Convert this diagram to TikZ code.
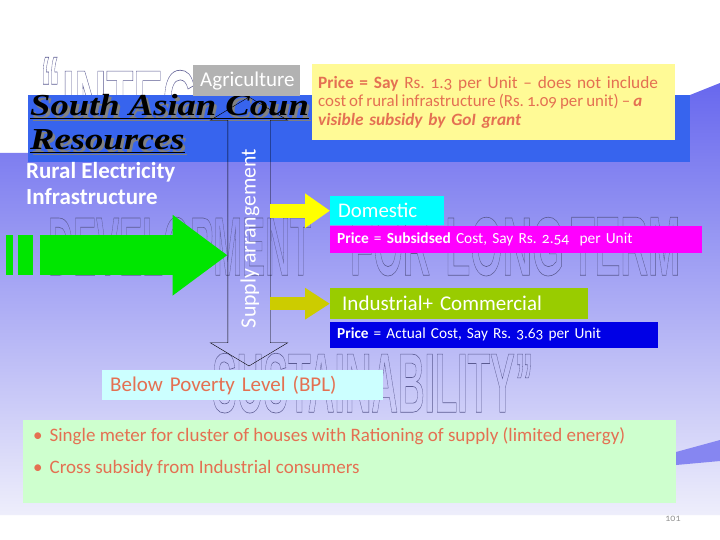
\documentclass[tikz,border=0pt]{standalone}
\usepackage{xcolor}
\usepackage{tikz}
\usepackage{fontspec}
\setmainfont{Carlito}[Numbers=OldStyle]
\newfontfamily\titlefont{Liberation Serif}[FakeStretch=1.2]
\newfontfamily\markfont{Liberation Sans}
\definecolor{bgtop}{RGB}{104,104,238}
\definecolor{bgmid}{RGB}{165,165,246}
\definecolor{bgbot}{RGB}{238,238,251}
\definecolor{bandblue}{RGB}{55,100,238}
\definecolor{markgray}{RGB}{90,90,145}
\definecolor{aggray}{RGB}{178,178,178}
\definecolor{priceyellow}{RGB}{255,250,150}
\definecolor{salmon}{RGB}{228,112,82}
\definecolor{arrowgreen}{RGB}{0,230,0}
\definecolor{arrowyellow}{RGB}{255,255,0}
\definecolor{arrowolive}{RGB}{204,204,0}
\definecolor{domcyan}{RGB}{0,255,255}
\definecolor{pricemagenta}{RGB}{255,0,255}
\definecolor{indgreen}{RGB}{153,204,0}
\definecolor{priceblue}{RGB}{0,0,230}
\definecolor{bplcyan}{RGB}{204,255,255}
\definecolor{notegreen}{RGB}{206,255,206}
\definecolor{pagegray}{RGB}{150,150,150}
\usetikzlibrary{shapes,arrows,arrows.meta,positioning,calc}

\newcommand\outlined[1]{\special{pdf:literal direct 1 Tr 0.6 w}#1\special{pdf:literal direct 0 Tr}}
\newcommand\wmword[3]{\resizebox{#1pt}{#2pt}{\markfont\bfseries\fontsize{82}{82}\selectfont\outlined{#3}}}
\newcommand\fsz[1]{\fontsize{#1}{1.2\dimexpr#1pt\relax}\selectfont}
\frenchspacing

\begin{document}
\begin{tikzpicture}[
    x=1pt, y=-1pt,
    box/.style={anchor=north west, inner xsep=7pt, inner ysep=0pt, align=left, text=white},
    flow/.style={line width=#1},
    watermark/.style={anchor=north west, inner sep=0pt, text=markgray},
    titletext/.style={anchor=base west, inner sep=0pt, font=\titlefont\bfseries\itshape\fsz{30.5}}
]
\useasboundingbox (0,0) rectangle (720,540);
\fill[white] (0,0) rectangle (720,540);
\shade[top color=bgtop, middle color=bgmid, bottom color=bgbot]
    (0,153) -- (690,153) -- (690,95) -- (720,83) -- (720,515) -- (0,515) -- cycle;
\fill[bgtop!80] (676,452) -- (720,440) -- (720,461) -- (676,465) -- cycle;

% watermark title behind everything
\node[watermark] (wmq) at (40,57) {\wmword{20}{66}{“}};
\node[watermark] (wm1) at (62,70) {\wmword{135}{60}{INTEG}};
\node[watermark] (wm2) at (48,217) {\wmword{263}{58}{DEVELOPMENT}\hspace{39pt}\wmword{80}{58}{FOR}%
    \hspace{15pt}\wmword{119}{58}{LONG}\hspace{7pt}\wmword{109}{58}{TERM}};
\node[watermark] (wm3) at (212,353) {\wmword{321}{59}{SUSTAINABILITY”}};

% title band
\node[fill=bandblue, anchor=north west, inner sep=0pt, minimum width=662, minimum height=67] (band) at (28,95) {};
\node[titletext, text=black!50] at (32.5,118.5) {\underline{South Asian Coun}};
\node[titletext] (sac) at (30,116) {\underline{South Asian Coun}};
\node[titletext, text=black!50] at (32.5,152.5) {\underline{Resources}};
\node[titletext] (res) at (30,150) {\underline{Resources}};

\node[box, fill=aggray, minimum width=107, minimum height=31, text width=93, font=\fsz{21}] (agri) at (193,65) {Agriculture};

\node[box, fill=priceyellow, text=salmon, inner xsep=6pt, text width=351, minimum height=76, font=\fsz{17.3}] (price) at (312,64)
    {\mbox{{\bfseries Price = Say} Rs. 1.3 per Unit -- does not include}\\[-2pt]
     \mbox{\fsz{16.9}\spaceskip=0.8\fontdimen2\font cost of rural infrastructure (Rs. 1.09 per unit) -- {\bfseries\itshape a}}\\[-2pt]
     \mbox{\bfseries\itshape visible subsidy by GoI grant}};

% supply arrangement
\node[double arrow, draw=black, thin, rotate=90, minimum height=269pt, inner xsep=0pt, inner ysep=21pt,
      text height=0pt, text depth=0pt, double arrow head extend=17.5pt, double arrow tip angle=118] (supply) at (249,231.5) {};
\node[rotate=90, inner sep=0pt, text=white, font=\fsz{21.8}] (supplylabel) at (250,238.5) {Supply arrangement};

% rural electricity feed
\node[anchor=base west, align=left, inner sep=0pt, text=white, font=\bfseries\fontsize{23}{27}\selectfont] (rural) at (26,205)
    {Rural Electricity\\ Infrastructure};
\node[fill=arrowgreen, anchor=north west, inner sep=0pt, minimum width=7, minimum height=40] (bar1) at (6,235) {};
\node[fill=arrowgreen, anchor=north west, inner sep=0pt, minimum width=15, minimum height=40] (bar2) at (18,235) {};
\draw[flow=40pt, arrowgreen, -{Triangle[length=55pt, width=77pt]}]
    ($(bar2.east)+(7,0)$) -- (supply.north |- bar2.east);

% consumers
\node[box, fill=domcyan, inner xsep=8pt, minimum width=114, minimum height=29, text width=98, font=\fsz{20.8}] (dom) at (330,196) {Domestic};
\node[box, fill=pricemagenta, minimum width=372, minimum height=27, text width=358, font=\fsz{15.4}, below=0pt of dom.south west, anchor=north west] (domprice)
    {{\bfseries Price} = {\bfseries Subsidsed} Cost, Say Rs. 2.54\ \ per Unit};
\node[box, fill=indgreen, minimum width=258, minimum height=31, text width=234, inner xsep=12pt, font=\fsz{21}] (ind) at (330,288) {Industrial+ Commercial};
\node[box, fill=priceblue, minimum width=328, minimum height=26, text width=314, font=\fsz{15.3}, below=2pt of ind.south west, anchor=north west] (indprice)
    {{\bfseries Price} = Actual Cost, Say Rs. 3.63 per Unit};

\draw[flow=14pt, arrowyellow, -{Triangle[length=25pt, width=33pt]}] (supply.south |- dom.west) -- (dom.west);
\draw[flow=13pt, arrowolive, -{Triangle[length=25pt, width=30pt]}] (supply.south |- ind.west) -- (ind.west);

% below poverty level
\node[box, fill=bplcyan, text=salmon, inner xsep=8pt, minimum width=281, minimum height=30, text width=265, font=\fsz{21}] (bpl) at (102,370) {Below Poverty Level (BPL)};
\node[fill=notegreen, anchor=north west, inner sep=0pt, minimum width=653, minimum height=83] (notes) at (23,420) {};
\node[anchor=west, inner sep=0pt, text=salmon, font=\fsz{19}] (note1) at ($(notes.north west)+(10,16)$)
    {\textbullet\hspace{7pt}Single meter for cluster of houses with Rationing of supply (limited energy)};
\node[anchor=west, inner sep=0pt, text=salmon, font=\fsz{19}] (note2) at ($(notes.north west)+(10,48)$)
    {\textbullet\hspace{7pt}Cross subsidy from Industrial consumers};

\node[text=pagegray, font=\fsz{10}] (pgno) at (673,519) {101};
\end{tikzpicture}
\end{document}
